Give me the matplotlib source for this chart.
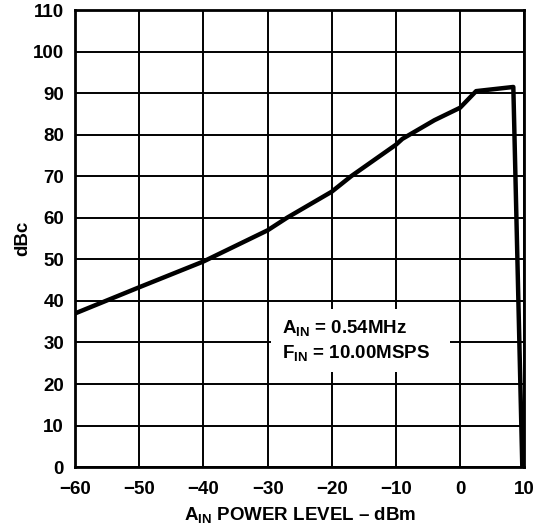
import matplotlib
matplotlib.use('Agg')
import matplotlib.pyplot as plt
from matplotlib.patches import Rectangle

plt.rcParams['font.family'] = ['Liberation Sans', 'DejaVu Sans']
plt.rcParams['font.weight'] = 'bold'
plt.rcParams['mathtext.fontset'] = 'custom'
plt.rcParams['mathtext.rm'] = 'Liberation Sans:bold'
plt.rcParams['mathtext.bf'] = 'Liberation Sans:bold'
plt.rcParams['mathtext.it'] = 'Liberation Sans:bold'

# power level (dBm) vs SFDR (dBc)
power_dbm = [-60, -50, -40, -30, -27, -20, -17, -10, -9, -4, 0, 2.5, 8.3, 9.7]
sfdr_dbc = [37, 43.3, 49.5, 57, 60, 66.3, 70, 77.6, 79, 83.5, 86.5, 90.5, 91.5, 0]

xticks = [-60, -50, -40, -30, -20, -10, 0, 10]
xtick_labels = ['\u221260', '\u221250', '\u221240', '\u221230', '\u221220', '\u221210', '0', '10']
yticks = list(range(0, 111, 10))

fig = plt.figure(figsize=(5.41, 5.32), dpi=100)
ax = fig.add_axes([0.139, 0.122, 0.83, 0.859])

ax.plot(power_dbm, sfdr_dbc, color='black', lw=3.2, solid_joinstyle='round', zorder=4)

ax.set_xlim(-60, 10)
ax.set_ylim(0, 110)
ax.set_xticks(xticks)
ax.set_xticklabels(xtick_labels)
ax.set_yticks(yticks)
ax.tick_params(length=0, labelsize=13.5)
ax.tick_params(axis='x', pad=10)
ax.tick_params(axis='y', pad=8)
for lbl in ax.get_xticklabels() + ax.get_yticklabels():
    lbl.set_fontweight('bold')

ax.grid(True, color='black', lw=1.4)
ax.set_axisbelow(True)
for s in ax.spines.values():
    s.set_linewidth(2)
    s.set_zorder(5)

# white box behind the conditions note
ax.add_patch(Rectangle((-29.5, 23), 28, 15, facecolor='white', edgecolor='none', zorder=3))
ax.text(-27.8, 33.5, r'A$_{\mathregular{IN}}$ = 0.54MHz', fontsize=13.5, fontweight='bold',
        va='center', ha='left', zorder=4)
ax.text(-27.8, 27.5, r'F$_{\mathregular{IN}}$ = 10.00MSPS', fontsize=13.5, fontweight='bold',
        va='center', ha='left', zorder=4)

ax.set_ylabel('dBc', fontsize=13.5, fontweight='bold', labelpad=1)
ax.set_xlabel('A$_{\\mathregular{IN}}$ POWER LEVEL \u2013 dBm',
              fontsize=13.5, fontweight='bold', labelpad=5)

fig.savefig('out.png', dpi=100)
